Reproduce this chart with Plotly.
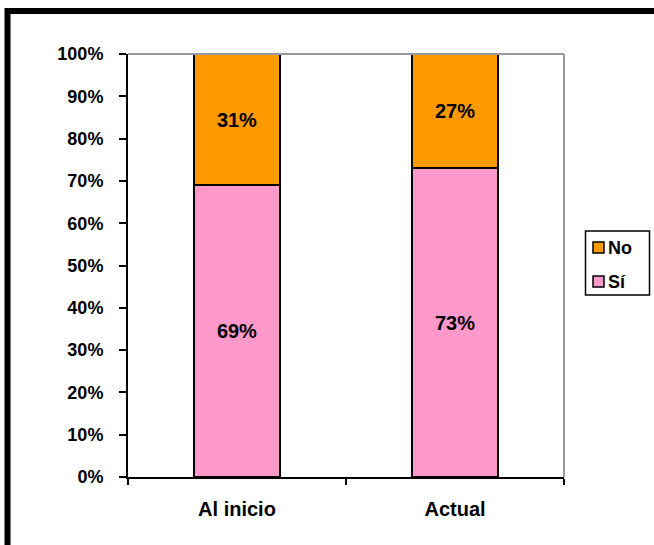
import plotly.graph_objects as go

categories = ["Al inicio", "Actual"]
si_values = [69, 73]
no_values = [31, 27]
series_names = ["Sí", "No"]
colors = {"Sí": "#FF99CC", "No": "#FF9900"}

L, R, T, B = 128, 90, 54, 68
W, H = 654, 545
pw, ph = W - L - R, H - T - B

def px(x):
    return (x - L) / pw

def py(y):
    return (H - B - y) / ph

FONT = "Liberation Sans"

fig = go.Figure()
for name, vals in zip(series_names, [si_values, no_values]):
    fig.add_trace(go.Bar(
        x=categories, y=vals, name=name,
        marker=dict(color=colors[name], line=dict(color="black", width=2)),
        width=0.395,
        text=[f"{v}%" for v in vals],
        texttemplate="%{text}", textposition="inside", insidetextanchor="middle",
        textangle=0,
        textfont=dict(family=FONT, size=20, color="black", weight="bold"),
        showlegend=False,
    ))

shapes = [
    dict(type="line", xref="paper", yref="paper", x0=0, x1=1, y0=1, y1=1,
         line=dict(color="#999999", width=2)),
    dict(type="line", xref="paper", yref="paper", x0=1, x1=1, y0=0, y1=1,
         line=dict(color="#999999", width=2)),
    dict(type="line", xref="paper", yref="paper", x0=px(5), x1=px(660), y0=py(11), y1=py(11),
         line=dict(color="black", width=6)),
    dict(type="line", xref="paper", yref="paper", x0=px(7.5), x1=px(7.5), y0=py(8), y1=py(550),
         line=dict(color="black", width=6)),
    # legend box
    dict(type="rect", xref="paper", yref="paper", x0=px(585.5), x1=px(649.5), y0=py(231), y1=py(295),
         line=dict(color="black", width=1.5), fillcolor="white"),
]
annotations = []
legend_order = ["No", "Sí"]
for i, name in enumerate(legend_order):
    yc = 248 + i * 34
    shapes.append(dict(type="rect", xref="paper", yref="paper",
                       x0=px(593), x1=px(604), y0=py(yc - 6), y1=py(yc + 5),
                       line=dict(color="black", width=1.5), fillcolor=colors[name]))
    annotations.append(dict(xref="paper", yref="paper", x=px(606), y=py(yc),
                            xanchor="left", yanchor="middle", showarrow=False,
                            text=name, font=dict(family=FONT, size=18, color="black", weight="bold")))

fig.update_layout(
    barmode="stack",
    width=W, height=H,
    margin=dict(l=L, r=R, t=T, b=B, autoexpand=False),
    paper_bgcolor="white", plot_bgcolor="white",
    font=dict(family=FONT, color="black", weight="bold"),
    showlegend=False,
    yaxis=dict(
        range=[0, 100], dtick=10, ticksuffix="%",
        ticks="outside", ticklen=7, tickwidth=2, tickcolor="black",
        showline=True, linecolor="black", linewidth=2,
        showgrid=False, zeroline=False,
        tickfont=dict(family=FONT, size=18, color="black", weight="bold"),
        ticklabelstandoff=12,
    ),
    xaxis=dict(
        ticks="outside", tickson="boundaries", ticklen=6, tickwidth=2, tickcolor="black",
        showline=True, linecolor="black", linewidth=2,
        showgrid=False,
        tickfont=dict(family=FONT, size=20, color="black", weight="bold"),
        ticklabelstandoff=13,
    ),
    shapes=shapes,
    annotations=annotations,
)

fig.write_html("out.html")
